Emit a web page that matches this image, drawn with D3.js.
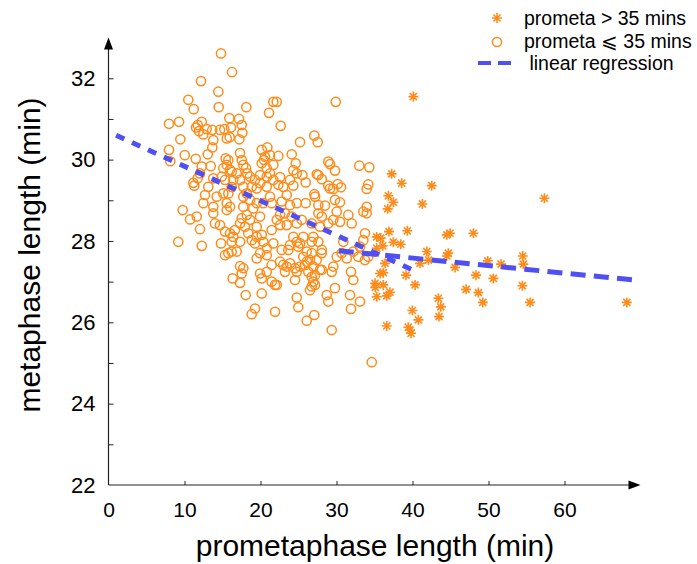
<!DOCTYPE html>
<html><head><meta charset="utf-8">
<script src="https://cdn.jsdelivr.net/npm/d3@7"></script>
<style>html,body{margin:0;padding:0;background:#fff;}svg{display:block;font-family:"Liberation Sans",Arial,sans-serif;}</style>
</head><body>
<svg id="chart" width="697" height="564"></svg>
<script>
// prometa <= 35 mins (circles)
const circleX = [14.80,16.25,12.17,14.45,10.50,11.21,14.50,18.13,21.12,21.69,7.96,9.28,9.45,7.96,8.13,10.03,11.52,11.74,12.27,11.91,12.48,12.92,13.66,13.79,14.67,15.24,15.90,16.12,17.17,17.53,17.61,17.21,15.56,15.95,13.66,11.48,13.06,12.27,13.45,11.16,11.29,12.04,11.74,13.13,13.79,14.24,12.70,12.48,15.11,15.77,15.56,15.99,13.79,15.42,15.77,17.31,17.53,17.74,18.10,18.27,18.62,16.87,16.21,15.11,14.90,15.33,16.42,16.21,17.31,17.74,18.19,18.85,19.28,19.50,19.94,19.94,20.16,20.90,21.25,20.46,20.82,20.16,21.25,21.69,20.82,21.25,20.37,19.50,18.62,17.74,21.47,19.05,17.74,9.76,22.14,29.90,22.66,25.20,27.08,27.53,22.35,24.11,24.64,24.32,24.77,25.51,25.95,22.57,23.00,23.88,24.32,22.35,28.92,29.14,29.80,27.40,27.61,28.06,28.92,29.14,29.58,30.16,30.60,33.00,34.32,34.18,33.97,27.08,27.18,27.61,28.49,29.80,30.46,24.77,25.95,22.79,33.97,22.57,23.45,22.57,22.14,27.61,28.06,30.03,31.55,32.00,30.46,28.92,29.58,33.53,33.97,24.32,24.77,25.20,23.88,23.66,22.79,26.74,27.61,28.06,28.06,26.08,25.63,26.08,26.51,25.86,30.90,30.69,30.03,31.35,32.21,33.09,32.87,33.75,34.18,33.53,33.75,22.57,23.00,23.88,23.22,24.54,24.77,24.54,22.14,26.29,26.74,26.95,26.74,26.51,27.17,28.06,29.58,29.37,29.80,31.91,32.21,31.78,33.09,31.91,28.71,28.92,24.77,24.97,26.08,27.08,29.37,34.64,10.73,11.61,12.04,13.79,14.01,14.67,15.33,15.56,9.18,12.27,14.80,15.33,15.77,16.21,16.87,15.99,16.42,16.21,17.31,16.64,17.31,17.96,18.39,18.62,19.50,20.16,19.50,20.37,20.82,19.94,20.82,21.69,21.47,19.94,18.19,17.53,18.85,19.28,19.50,17.31,17.74,17.53,16.34,17.31,19.94,20.16,20.82,21.47,21.47,21.91,18.05,20.16,19.28,18.84,21.91,20.59,21.69,20.82,15.56,15.99,23.45,23.88,23.22,24.11,24.77,25.42,26.74,27.83,26.95,25.63,24.97,26.74,27.40,26.95,25.20,23.45,27.83,27.17];
const circleY = [32.61,32.15,31.93,31.67,31.47,31.24,31.29,31.29,31.15,31.42,30.88,30.93,30.50,30.24,29.96,30.11,30.79,30.85,30.93,30.70,30.62,30.75,30.73,30.48,30.73,30.75,31.02,30.79,31.00,30.85,30.66,30.50,30.52,30.55,30.30,30.02,30.13,29.83,29.84,29.43,29.36,29.66,29.54,29.33,29.54,29.09,29.13,28.93,29.17,29.17,28.93,28.84,28.84,30.03,29.99,30.16,29.99,29.87,29.79,29.66,29.58,29.66,29.70,29.79,29.58,29.50,29.50,29.33,29.50,29.33,29.17,29.33,29.50,29.29,29.42,29.62,30.24,30.30,30.11,29.99,29.79,29.91,29.66,29.50,29.33,29.09,28.93,28.93,29.01,29.09,28.93,28.80,28.84,28.76,31.42,31.42,30.83,30.43,30.59,30.43,30.09,30.13,29.91,29.74,29.66,29.62,29.44,29.57,29.33,29.50,29.36,29.38,29.95,29.89,29.73,29.64,29.62,29.52,29.36,29.29,29.28,29.40,29.32,29.85,29.81,29.39,29.28,29.15,29.09,28.88,28.87,29.01,28.95,28.93,28.93,28.97,28.84,28.64,28.39,28.39,28.52,28.68,28.60,28.72,28.64,28.43,28.47,28.43,28.52,28.72,28.68,28.10,27.98,27.94,27.90,27.78,27.78,27.98,27.98,27.78,27.70,27.74,27.61,27.49,27.53,27.41,27.98,27.70,27.61,27.57,27.74,27.86,27.61,27.53,27.61,28.02,28.19,27.49,27.41,27.45,27.24,27.33,27.24,27.04,26.92,27.24,27.12,27.00,26.88,26.79,26.92,27.29,27.37,27.24,26.84,27.24,27.04,26.67,26.51,26.33,26.67,26.51,26.61,26.37,26.04,26.18,25.81,25.02,28.53,28.60,28.29,28.68,28.43,28.39,28.23,28.76,27.98,27.88,27.94,27.65,27.70,27.74,27.74,28.19,28.10,27.98,27.98,28.27,28.43,28.35,28.19,28.52,28.35,28.15,28.10,27.98,27.82,27.70,27.65,27.94,28.27,28.60,28.64,28.56,28.02,27.94,27.57,27.38,27.33,27.20,27.08,26.97,27.20,27.08,27.24,27.41,27.00,26.92,26.67,26.71,26.34,26.20,26.26,30.07,29.87,29.58,29.87,29.75,29.13,28.88,28.68,28.60,28.43,28.52,28.43,28.35,28.10,28.10,27.86,27.70,27.53,27.37,27.37,27.37,27.29,27.16];
// prometa > 35 mins (stars)
const starX = [40.11,37.26,38.58,42.53,36.82,37.48,36.74,41.30,36.91,39.32,35.29,35.82,36.08,37.48,38.45,44.51,44.94,48.01,41.88,42.09,44.72,44.51,35.29,36.39,40.99,45.60,35.73,36.16,39.15,48.36,35.07,35.10,36.16,40.34,47.05,48.66,37.04,36.61,35.29,43.40,43.72,39.98,43.49,40.77,36.61,39.45,39.81,39.68,57.35,49.90,51.65,54.51,54.59,50.64,49.25,54.46,55.47,68.20];
const starY = [31.55,29.65,29.42,29.36,29.11,28.95,28.79,28.91,28.23,28.25,28.10,28.07,27.88,27.97,27.92,28.15,28.19,28.19,27.74,27.53,27.70,27.63,27.82,27.45,27.45,27.35,27.20,27.22,27.16,27.16,26.96,26.86,26.92,26.92,26.81,26.73,26.74,26.65,26.63,26.59,26.38,26.29,26.14,26.06,25.91,25.88,25.73,25.81,29.05,27.51,27.43,27.63,27.43,27.08,26.49,26.90,26.49,26.49];
// linear regression segments
const reg1X = [1.0, 40.0], reg1Y = [30.60, 27.29];
const reg2X = [30.3, 69.1], reg2Y = [27.76, 27.04];
// ticks
const xTicks = [0,10,20,30,40,50,60];
const yTicks = [22,23,24,25,26,27,28,29,30,31,32];
const yLabelTicks = [22,24,26,28,30,32];
const legendLabels = ["prometa > 35 mins", "prometa \u2A7D 35 mins", " linear regression"];

const orange = "#ff8c1a", blue = "#5050f2", axisCol = "#222";
const svg = d3.select("#chart");
const x = d3.scaleLinear().domain([0, 70]).range([108.5, 640.5]);
const y = d3.scaleLinear().domain([22, 33]).range([485, 37.6]);

// axes
const gx = svg.append("g").attr("transform", `translate(0,${y(22)})`)
  .call(d3.axisBottom(x).tickValues(xTicks).tickSizeInner(-4).tickSizeOuter(0).tickPadding(17).tickFormat(d3.format("d")));
gx.select(".domain").remove();
gx.selectAll(".tick line").attr("stroke", axisCol).filter(d => d === 0).remove();
gx.selectAll(".tick text").attr("font-size", 21).attr("fill", "#000").attr("font-family", "Liberation Sans, Arial, sans-serif");

const gy = svg.append("g").attr("transform", `translate(${x(0)},0)`)
  .call(d3.axisLeft(y).tickValues(yTicks).tickSizeInner(-5).tickSizeOuter(0).tickPadding(13)
    .tickFormat(d => yLabelTicks.includes(d) ? d3.format("d")(d) : ""));
gy.select(".domain").remove();
gy.selectAll(".tick line").attr("stroke", axisCol).filter(d => d === 22).remove();
gy.selectAll(".tick text").attr("font-size", 22).attr("fill", "#000").attr("font-family", "Liberation Sans, Arial, sans-serif");

// axis lines with arrows
svg.append("line").attr("x1", x(0)).attr("x2", x(70) - 6).attr("y1", y(22)).attr("y2", y(22)).attr("stroke", axisCol).attr("stroke-width", 1.2);
svg.append("line").attr("x1", x(0)).attr("x2", x(0)).attr("y1", y(22)).attr("y2", y(33) + 6).attr("stroke", axisCol).attr("stroke-width", 1.2);
const xe = x(70), ye = y(22);
svg.append("path").attr("d", `M${xe},${ye} L${xe-12},${ye-4.5} L${xe-12},${ye+4.5} Z`).attr("fill", "#000");
const xa = x(0), ya = y(33);
svg.append("path").attr("d", `M${xa},${ya} L${xa-4.5},${ya+12} L${xa+4.5},${ya+12} Z`).attr("fill", "#000");

// titles
svg.append("text").attr("x", 375).attr("y", 556).attr("text-anchor", "middle").attr("font-size", 30).text("prometaphase length (min)");
svg.append("text").attr("transform", `translate(40,255) rotate(-90)`).attr("text-anchor", "middle").attr("font-size", 30).text("metaphase length (min)");

// circles
svg.append("g").selectAll("circle").data(d3.range(circleX.length)).join("circle")
  .attr("cx", i => x(circleX[i])).attr("cy", i => y(circleY[i])).attr("r", 4.6)
  .attr("fill", "none").attr("stroke", orange).attr("stroke-width", 1.5);

// stars (8-armed asterisk)
const starPath = (r) => {
  const a = r * Math.SQRT1_2;
  return `M${-r},0L${r},0M0,${-r}L0,${r}M${-a},${-a}L${a},${a}M${-a},${a}L${a},${-a}`;
};
svg.append("g").selectAll("path").data(d3.range(starX.length)).join("path")
  .attr("transform", i => `translate(${x(starX[i])},${y(starY[i])})`)
  .attr("d", starPath(5)).attr("stroke", orange).attr("stroke-width", 1.6).attr("fill", "none");

// regression lines
const line = d3.line().x(d => x(d[0])).y(d => y(d[1]));
svg.append("path").attr("d", line(reg1X.map((v, i) => [v, reg1Y[i]])))
  .attr("stroke", blue).attr("stroke-width", 5).attr("fill", "none").attr("stroke-dasharray", "9,8.5");
svg.append("path").attr("d", line(reg2X.map((v, i) => [v, reg2Y[i]])))
  .attr("stroke", blue).attr("stroke-width", 5).attr("fill", "none").attr("stroke-dasharray", "15,8.3");

// legend
const lg = svg.append("g");
lg.append("path").attr("transform", "translate(497,18)").attr("d", starPath(5)).attr("stroke", orange).attr("stroke-width", 1.6);
lg.append("circle").attr("cx", 497).attr("cy", 42).attr("r", 4.6).attr("fill", "none").attr("stroke", orange).attr("stroke-width", 1.5);
lg.append("line").attr("x1", 478).attr("x2", 511).attr("y1", 63).attr("y2", 63).attr("stroke", blue).attr("stroke-width", 4).attr("stroke-dasharray", "13,7");
lg.selectAll("text").data(legendLabels).join("text")
  .attr("x", 524).attr("y", (d, i) => 25 + i * 22.5).attr("font-size", 19.5).attr("fill", "#000")
  .attr("xml:space", "preserve").style("white-space", "pre").text(d => d);
</script>
</body></html>
